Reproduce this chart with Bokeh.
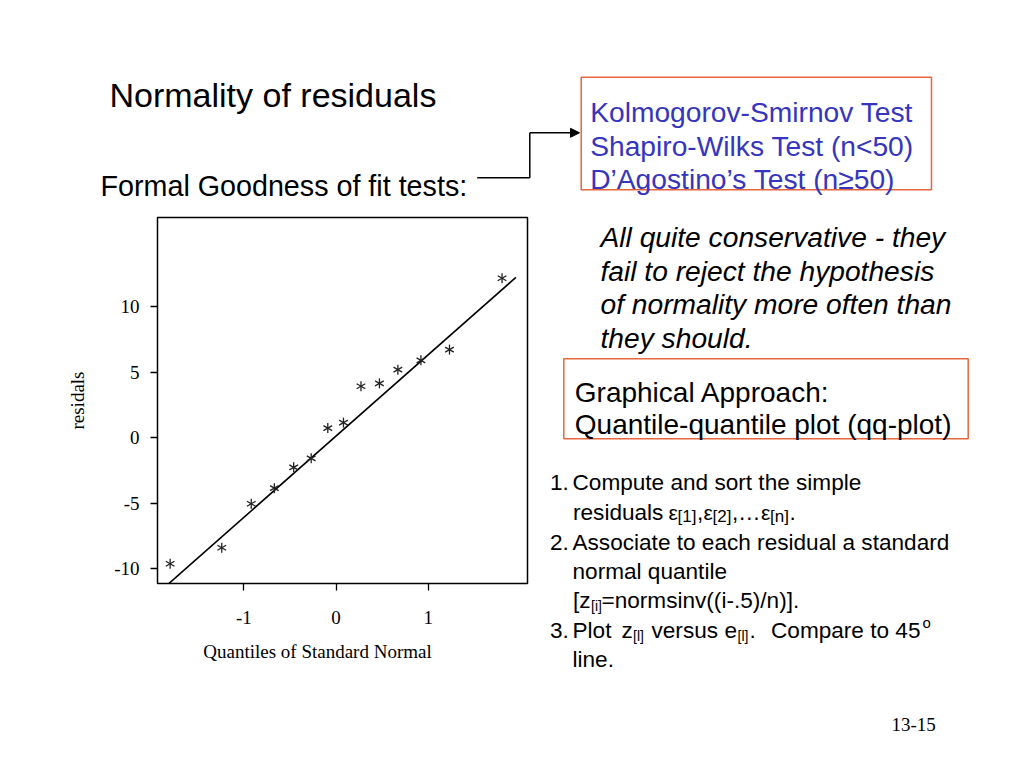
import math
from bokeh.plotting import figure
from bokeh.layouts import column, row
from bokeh.models import Arrow, NormalHead, FixedTicker, Range1d
from bokeh.core.properties import value
from bokeh.embed import file_html
from bokeh.resources import INLINE

# ---------------- data ----------------
quantiles = [-1.80, -1.24, -0.92, -0.67, -0.46, -0.27, -0.09,
             0.08, 0.27, 0.47, 0.67, 0.92, 1.23, 1.80]
residuals = [-9.64, -8.42, -5.05, -3.86, -2.27, -1.58, 0.73,
             1.15, 3.93, 4.15, 5.20, 5.91, 6.73, 12.19]
ref_line_x = [-1.95, 1.95]
ref_line_y = [-12.0, 12.25]
x_ticks = [-1, 0, 1]
y_ticks = [-10, -5, 0, 5, 10]
x_label = "Quantiles of Standard Normal"
y_label = "residals"

BLUE = "#3535C0"
ORANGE = "#E5673F"
W = 1000
TOP_H = 205
ROW_H = 545
QQ_W = 540
QQ_H = 430


def blank(x0, x1, y0, y1):
    """A text panel whose data coordinates are page pixels (y downwards)."""
    f = figure(width=x1 - x0, height=y1 - y0, x_range=Range1d(x0, x1), y_range=Range1d(y1, y0),
               output_backend="svg", toolbar_location=None, title=None,
               x_axis_type=None, y_axis_type=None,
               min_border=0, min_border_left=0, min_border_right=0,
               min_border_top=0, min_border_bottom=0)
    f.frame_align = False
    f.outline_line_color = None
    f.xgrid.visible = False
    f.ygrid.visible = False
    f.background_fill_color = "white"
    f.border_fill_color = "white"
    return f


def T(f, text, x, y, size, font="Liberation Sans", color="black", style="normal", align="left"):
    f.text(x=[x], y=[y], text=[text], text_font=value(font), text_font_size=value(f"{size}px"),
           text_color=color, text_font_style=value(style),
           text_align=align, text_baseline="alphabetic")


# ---------------- top panel ----------------
top = blank(0, W, 0, TOP_H)
T(top, "Normality of residuals", 109, 94.3, 34)
T(top, "Formal Goodness of fit tests:", 100, 185, 28.7)
top.quad(left=[580.7], right=[931], top=[76.7], bottom=[189.3],
         fill_color=None, line_color=ORANGE, line_width=1.5)
T(top, "Kolmogorov-Smirnov Test", 589.7, 111.7, 28.2, color=BLUE)
T(top, "Shapiro-Wilks Test (n<50)", 589.7, 145.2, 28.2, color=BLUE)
T(top, "D\u2019Agostino\u2019s Test (n\u226550)", 589.7, 178.7, 28.2, color=BLUE)
top.line(x=[476.7, 529.3, 529.3], y=[177.3, 177.3, 132.3], line_color="black", line_width=1.5)
top.add_layout(Arrow(x_start=529.3, y_start=132.3, x_end=579, y_end=132.3,
                     line_color="black", line_width=1.5,
                     end=NormalHead(size=9, fill_color="black", line_color="black")))

# ---------------- qq plot ----------------
FL, FT, FW, FH = 157, 12, 370, 366
p = figure(width=QQ_W, height=QQ_H, x_range=(-1.937, 2.076), y_range=(-11.15, 16.83),
           output_backend="svg", toolbar_location=None, title=None,
           min_border_left=FL, min_border_right=QQ_W - FL - FW,
           min_border_top=FT, min_border_bottom=QQ_H - FT - FH,
           y_axis_label=y_label)
p.frame_align = False
p.background_fill_color = "white"
p.border_fill_color = "white"
p.outline_line_color = "black"
p.outline_line_width = 1.5
p.xgrid.visible = False
p.ygrid.visible = False
p.xaxis.ticker = FixedTicker(ticks=x_ticks)
p.yaxis.ticker = FixedTicker(ticks=y_ticks)
p.xaxis.major_label_overrides = {t: str(t) for t in x_ticks}
p.yaxis.major_label_overrides = {t: str(t) for t in y_ticks}
for ax in (p.xaxis[0], p.yaxis[0]):
    ax.axis_line_color = None
    ax.major_tick_out = 7
    ax.major_tick_in = 0
    ax.major_tick_line_width = 1.3
    ax.major_tick_line_color = "black"
    ax.minor_tick_line_color = None
    ax.major_label_text_font = "Liberation Serif"
    ax.major_label_text_font_size = "19px"
    ax.major_label_text_color = "black"
    ax.axis_label_text_font = "Liberation Serif"
    ax.axis_label_text_font_style = "normal"
    ax.axis_label_text_font_size = "19px"
    ax.axis_label_text_color = "black"
p.yaxis.major_label_standoff = 11
p.yaxis.axis_label_standoff = 23
p.xaxis.major_label_standoff = 20

p.line(ref_line_x, ref_line_y, line_color="black", line_width=1.6)
for ang in (math.pi / 2, math.pi / 6, -math.pi / 6):
    p.scatter(quantiles, residuals, marker="dash", size=10, angle=ang,
              line_color="#222222", line_width=1.3)

# x-axis title, placed as in the slide (a little left of the frame centre)
qlab = blank(0, QQ_W, TOP_H + QQ_H, TOP_H + ROW_H)
T(qlab, x_label, 317, 650.7, 19, font="Liberation Serif", align="center")

# ---------------- right panel ----------------
r = blank(QQ_W, W, TOP_H, TOP_H + ROW_H)
for i, t in enumerate(["All quite conservative - they", "fail to reject the hypothesis",
                       "of normality more often than", "they should."]):
    T(r, t, 600, 236.7 + i * 33.6, 28.2, style="italic")

r.quad(left=[563.3], right=[967.7], top=[358.3], bottom=[438.3],
       fill_color=None, line_color=ORANGE, line_width=1.5)
T(r, "Graphical Approach:", 574.3, 391.7, 28)
T(r, "Quantile-quantile plot (qq-plot)", 574.3, 424.2, 28)

S = 22.6
T(r, "1.", 549.5, 481.7, S)
T(r, "Compute and sort the simple", 572, 481.7, S)
T(r, "residuals", 572.5, 511.7, S)
T(r, "\u03b5", 668, 511.7, 21)
T(r, "[1]", 677, 516, 17)
T(r, ",", 696.5, 511.7, S)
T(r, "\u03b5", 703, 511.7, 21)
T(r, "[2]", 712, 516, 17)
T(r, ",", 731.5, 511.7, S)
T(r, "\u2026", 737.5, 511.7, S)
T(r, "\u03b5", 760.5, 511.7, 21)
T(r, "[n]", 769.5, 516, 17)
T(r, ".", 789, 511.7, S)
T(r, "2.", 549.5, 541.7, S)
T(r, "Associate to each residual a standard", 572, 541.7, S)
T(r, "normal quantile", 572, 570.5, S)
T(r, "[z", 572.5, 600, S)
T(r, "[i]", 590.5, 605, 14)
T(r, "=normsinv((i-.5)/n)].", 601, 600, S)
T(r, "3.", 549.5, 630, S)
T(r, "Plot", 572, 630, S)
T(r, "z", 621, 630, S)
T(r, "[l]", 632.5, 635, 14)
T(r, "versus", 651, 630, S)
T(r, "e", 724, 630, S)
T(r, "[l]", 737, 635, 14)
T(r, ".", 749, 630, S)
T(r, "Compare to 45", 770.5, 630, S)
T(r, "o", 922, 622, 15)
T(r, "line.", 572, 659.3, S)

T(r, "13-15", 891, 724, 19, font="Liberation Serif")

layout = column(top, row(column(p, qlab), r))
open("out.html", "w").write(file_html(layout, INLINE))
